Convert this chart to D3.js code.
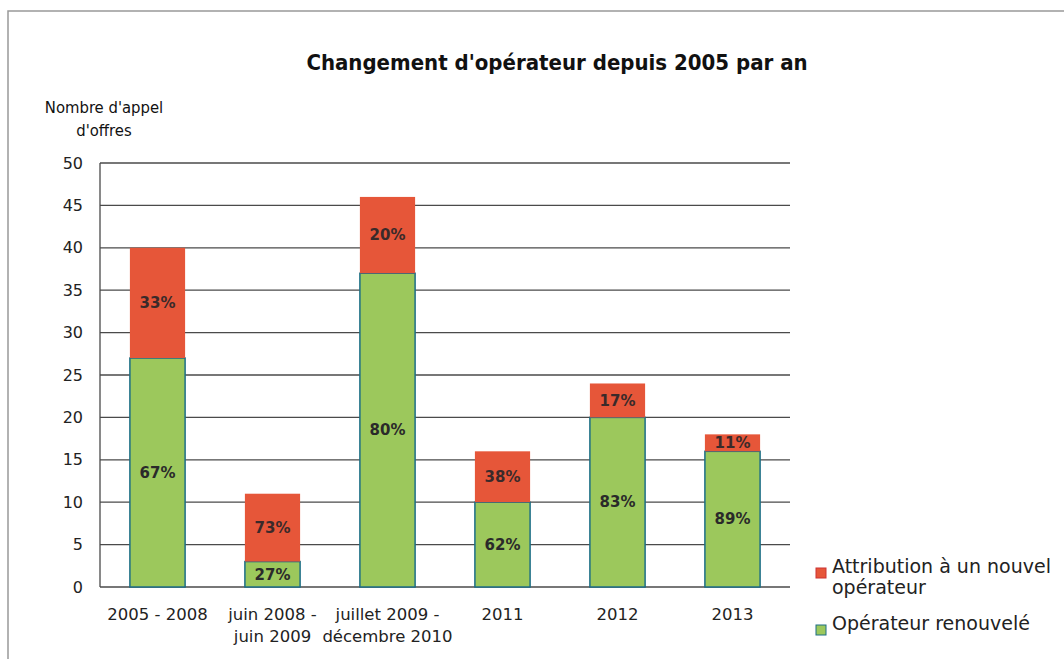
<!DOCTYPE html>
<html><head><meta charset="utf-8">
<script src="https://cdn.jsdelivr.net/npm/d3@7"></script>
<style>
body{margin:0;background:#fff;}
svg{display:block;}
</style></head>
<body><svg id="c" width="1064" height="659"></svg>
<script>
const categories = [["2005 - 2008"],["juin 2008 -","juin 2009"],["juillet 2009 -","décembre 2010"],["2011"],["2012"],["2013"]];
const renouvele = [27, 3, 37, 10, 20, 16];
const nouveau = [13, 8, 9, 6, 4, 2];
const pctRenouvele = ["67%","27%","80%","62%","83%","89%"];
const pctNouveau = ["33%","73%","20%","38%","17%","11%"];
const yTicks = [0,5,10,15,20,25,30,35,40,45,50];
const seriesNames = ["Attribution à un nouvel|opérateur","Opérateur renouvelé"];

const GREEN="#9cc85c", RED="#e65639", OUTLINE="#1c6e86";
const F="'DejaVu Sans',sans-serif", FC="'DejaVu Sans Condensed','DejaVu Sans',sans-serif";
const svg=d3.select("#c");
// frame
svg.append("path").attr("d","M8,659 L8,11 L1064,11").attr("fill","none").attr("stroke","#999").attr("stroke-width",1.5);

const x=d3.scaleBand().domain(d3.range(categories.length)).range([100,790]).paddingInner(0.52).paddingOuter(0.26);
const y=d3.scaleLinear().domain([0,50]).range([587,163]);

// gridlines
svg.append("g").selectAll("line").data(yTicks).join("line")
 .attr("x1",100).attr("x2",790).attr("y1",d=>y(d)).attr("y2",d=>y(d))
 .attr("stroke","#4a4a4a").attr("stroke-width",1.3);
svg.append("line").attr("x1",100).attr("x2",100).attr("y1",y(50)).attr("y2",y(0)).attr("stroke","#4a4a4a").attr("stroke-width",1.3);

// y axis labels
const yAxis=d3.axisLeft(y).tickValues(yTicks).tickSize(0).tickPadding(17);
const ga=svg.append("g").attr("transform","translate(100,0)").call(yAxis);
ga.select(".domain").remove();
ga.selectAll("text").attr("font-size",16).attr("fill","#222").attr("font-family",F);

// bars
const g=svg.append("g");
g.selectAll("rect.g").data(renouvele).join("rect").attr("class","g")
 .attr("x",(d,i)=>x(i)).attr("width",x.bandwidth())
 .attr("y",d=>y(d)).attr("height",d=>y(0)-y(d))
 .attr("fill",GREEN).attr("stroke",OUTLINE).attr("stroke-width",1.5);
g.selectAll("rect.r").data(nouveau).join("rect").attr("class","r")
 .attr("x",(d,i)=>x(i)).attr("width",x.bandwidth())
 .attr("y",(d,i)=>y(renouvele[i]+d)).attr("height",(d,i)=>y(renouvele[i])-y(renouvele[i]+d))
 .attr("fill",RED);

// labels
g.selectAll("text.gl").data(pctRenouvele).join("text").attr("class","gl")
 .attr("x",(d,i)=>x(i)+x.bandwidth()/2).attr("y",(d,i)=>y(renouvele[i]/2))
 .attr("dy","0.35em").attr("text-anchor","middle").attr("font-size",15).attr("font-weight","bold")
 .attr("fill","#2a2a2a").attr("font-family",F).text(d=>d);
g.selectAll("text.rl").data(pctNouveau).join("text").attr("class","rl")
 .attr("x",(d,i)=>x(i)+x.bandwidth()/2).attr("y",(d,i)=>y(renouvele[i]+nouveau[i]/2))
 .attr("dy","0.35em").attr("text-anchor","middle").attr("font-size",15).attr("font-weight","bold")
 .attr("fill","#3a2a2a").attr("font-family",F).text(d=>d);

// x labels
const xl=svg.append("g").selectAll("text").data(categories).join("text")
 .attr("x",(d,i)=>x(i)+x.bandwidth()/2).attr("y",620).attr("text-anchor","middle")
 .attr("font-size",16.5).attr("fill","#222").attr("font-family",F);
xl.selectAll("tspan").data(d=>d).join("tspan")
 .attr("x",function(){return this.parentNode.getAttribute("x");})
 .attr("dy",(d,j)=>j?22:0).text(d=>d);

// title
svg.append("text").attr("x",557).attr("y",70).attr("text-anchor","middle").attr("font-size",22)
 .attr("font-weight","bold").attr("fill","#111").attr("font-family",FC).text("Changement d'opérateur depuis 2005 par an");
// y title
svg.append("text").attr("x",104).attr("y",113).attr("text-anchor","middle").attr("font-size",16.5).attr("fill","#111").attr("font-family",FC)
 .selectAll("tspan").data(["Nombre d'appel","d'offres"]).join("tspan").attr("x",104).attr("dy",(d,j)=>j?23:0).text(d=>d);

// legend
const leg=svg.append("g").attr("font-family",F);
const legY=[573,630], legC=[RED,GREEN], legS=["#c33","#1c6e86"];
seriesNames.forEach((n,i)=>{
  leg.append("rect").attr("x",816).attr("y",legY[i]-5).attr("width",10).attr("height",10).attr("fill",legC[i]).attr("stroke",legS[i]).attr("stroke-width",1);
  const t=leg.append("text").attr("x",832).attr("y",legY[i]).attr("dy","0.35em").attr("font-size",19).attr("fill","#222");
  n.split("|").forEach((s,j)=>t.append("tspan").attr("x",832).attr("dy",j?21:0).text(s));
});
</script></body></html>
